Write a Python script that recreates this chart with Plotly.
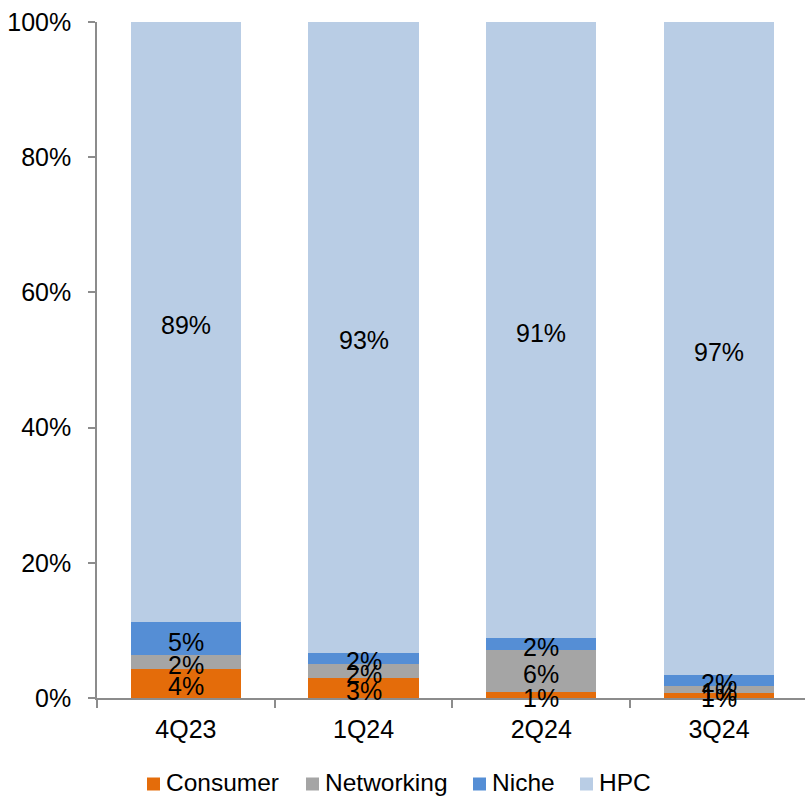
import plotly.graph_objects as go

# Revenue mix by platform, share of quarterly revenue
quarters = ["4Q23", "1Q24", "2Q24", "3Q24"]
consumer = [0.043, 0.029, 0.009, 0.008]
networking = [0.021, 0.021, 0.062, 0.010]
niche = [0.048, 0.017, 0.018, 0.016]
hpc = [0.888, 0.933, 0.911, 0.966]

series = [
    ("Consumer", consumer, "#E46C0A"),
    ("Networking", networking, "#A5A5A5"),
    ("Niche", niche, "#558ED5"),
    ("HPC", hpc, "#B9CDE5"),
]

FONT = "Liberation Sans, Arial, sans-serif"
AXIS_GRAY = "#8C8C8C"

W, H = 805, 799
ML, MR, MT, MB = 97, 0, 22, 101
PLOT_W = W - ML - MR
PLOT_H = H - MT - MB


def px_to_paper_x(px):
    return (px - ML) / PLOT_W


def px_to_paper_y(py):
    return (H - MB - py) / PLOT_H


fig = go.Figure()

# Stacked segments
for name, vals, color in series:
    fig.add_trace(go.Bar(
        name=name,
        x=quarters,
        y=vals,
        marker=dict(color=color, line=dict(width=0)),
        width=0.62,
        hoverinfo="skip",
        showlegend=False,
    ))

# Value labels centred in each segment, drawn above all bars
base = [0.0] * len(quarters)
for name, vals, color in series:
    for q, b, v in zip(quarters, base, vals):
        fig.add_annotation(
            x=q, y=b + v / 2,
            xref="x", yref="y",
            text=f"{v:.0%}",
            showarrow=False,
            xanchor="center", yanchor="middle",
            yshift=-3,
            font=dict(family=FONT, size=25, color="black"),
        )
    base = [b + v for b, v in zip(base, vals)]

# Legend row below the axis: square swatch followed by the series name
legend_left_px = [147, 306, 473, 580]
swatch = 13
legend_mid_px = 784
for (name, vals, color), left in zip(series, legend_left_px):
    fig.add_shape(
        type="rect", xref="paper", yref="paper",
        x0=px_to_paper_x(left), x1=px_to_paper_x(left + swatch),
        y0=px_to_paper_y(legend_mid_px + swatch / 2),
        y1=px_to_paper_y(legend_mid_px - swatch / 2),
        fillcolor=color, line=dict(width=0),
    )
    fig.add_annotation(
        x=px_to_paper_x(left + swatch + 4), y=px_to_paper_y(legend_mid_px - 2),
        xref="paper", yref="paper",
        text=name, showarrow=False,
        xanchor="left", yanchor="middle",
        font=dict(family=FONT, size=24.5, color="black"),
    )

fig.update_layout(
    barmode="stack",
    width=W,
    height=H,
    margin=dict(l=ML, r=MR, t=MT, b=MB),
    paper_bgcolor="white",
    plot_bgcolor="white",
    font=dict(family=FONT, size=25, color="black"),
    showlegend=False,
    xaxis=dict(
        type="category",
        range=[-0.5, 3.484],
        showgrid=False,
        showline=True, linecolor=AXIS_GRAY, linewidth=1.5,
        ticks="outside", tickson="boundaries",
        ticklen=8, tickcolor=AXIS_GRAY, tickwidth=1.5,
        ticklabelstandoff=8,
        tickfont=dict(family=FONT, size=25, color="black"),
        fixedrange=True,
    ),
    yaxis=dict(
        range=[0, 1],
        tickvals=[0, 0.2, 0.4, 0.6, 0.8, 1.0],
        tickformat=".0%",
        showgrid=False, zeroline=False,
        showline=True, linecolor=AXIS_GRAY, linewidth=1.5,
        ticks="outside", ticklen=7, tickcolor=AXIS_GRAY, tickwidth=1.5,
        ticklabelstandoff=12,
        tickfont=dict(family=FONT, size=25, color="black"),
        fixedrange=True,
    ),
)

fig.write_html("out.html")
